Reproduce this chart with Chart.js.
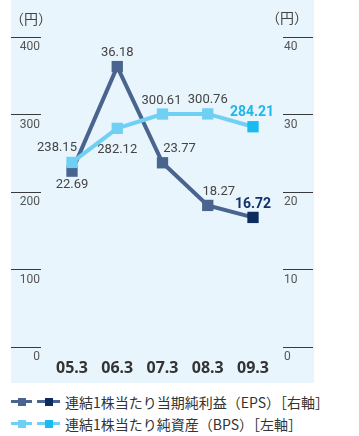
<!DOCTYPE html>
<html>
<head>
<meta charset="utf-8">
<script src="https://cdn.jsdelivr.net/npm/chart.js@4.4.1/dist/chart.umd.min.js"></script>
<style>
  html, body { margin: 0; padding: 0; background: #ffffff; }
  #wrap { position: relative; width: 359px; height: 436px; overflow: hidden; }
  #c { position: absolute; left: 0; top: 0; }
  .leg { position: absolute; left: 11px; height: 20px; display: flex; align-items: center;
         font-family: "Noto Sans CJK JP", "Noto Sans", sans-serif; font-size: 14px; color: #333; white-space: nowrap; }
  .ic { position: relative; height: 20px; display: inline-block; }
  .ic .ln { position: absolute; top: 8px; height: 3px; }
  .ic .mk { position: absolute; top: 5.5px; width: 8px; height: 8px; }
</style>
</head>
<body>
<div id="wrap">
  <canvas id="c" width="359" height="383"></canvas>
  <div class="leg" id="leg1" style="top:392px;"></div>
  <div class="leg" id="leg2" style="top:414px;"></div>
</div>
<script>
// ---- data ----
const categories = ["05.3", "06.3", "07.3", "08.3", "09.3"];
const epsValues = [22.69, 36.18, 23.77, 18.27, 16.72];     // right axis (円)
const bpsValues = [238.15, 282.12, 300.61, 300.76, 284.21]; // left axis (円)
const leftTicks = [0, 100, 200, 300, 400];
const rightTicks = [0, 10, 20, 30, 40];
const epsLegend = "連結1株当たり当期純利益（EPS）［右軸］";
const bpsLegend = "連結1株当たり純資産（BPS）［左軸］";
const unitLabel = "（円）";

// ---- styles ----
const EPS_COLOR = "#48648f";
const EPS_LAST = "#0b2c5c";
const BPS_COLOR = "#70d0f3";
const BPS_LAST = "#18bcee";
const PANEL = "#e8f5fc";
const NARROW = "'Liberation Sans Narrow', 'Roboto', sans-serif";

// label offsets relative to each point (styling only)
const labelOffsets = {
  bps: [[-15, -15], [0, 21], [-1, -13], [0, -14], [-1, -14]],
  eps: [[0, 14], [0, -14], [17, -14], [11, -14], [0, -13]]
};

function lastColor(n, normal, last) {
  return Array.from({length: n}, (_, i) => i === n - 1 ? last : normal);
}

const panelPlugin = {
  id: "panel",
  beforeDraw(chart) {
    const ctx = chart.ctx;
    ctx.save();
    ctx.fillStyle = PANEL;
    ctx.fillRect(11, 0, 303, 383);
    ctx.restore();
  },
  afterDraw(chart) {
    const ctx = chart.ctx;
    ctx.save();
    ctx.fillStyle = "#444";
    ctx.font = "14px 'Noto Sans CJK JP', sans-serif";
    ctx.textAlign = "center";
    ctx.textBaseline = "middle";
    ctx.fillText(unitLabel, 31, 19);
    ctx.fillText(unitLabel, 287, 18);
    ctx.restore();
  }
};

const valueLabelPlugin = {
  id: "valueLabels",
  afterDatasetsDraw(chart) {
    const ctx = chart.ctx;
    ctx.save();
    ctx.textAlign = "center";
    ctx.textBaseline = "middle";
    chart.data.datasets.forEach((ds, di) => {
      const meta = chart.getDatasetMeta(di);
      const key = ds.key;
      meta.data.forEach((pt, i) => {
        const last = i === meta.data.length - 1;
        const off = labelOffsets[key][i];
        const v = ds.data[i].y;
        if (last) {
          ctx.font = "bold 14px " + NARROW;
          ctx.fillStyle = key === "eps" ? "#12336a" : "#1fb7ea";
        } else {
          ctx.font = "13px " + NARROW;
          ctx.fillStyle = "#444";
        }
        ctx.fillText(v.toFixed(2), pt.x + off[0], pt.y + off[1]);
      });
    });
    ctx.restore();
  }
};

const yCommon = {
  min: 0,
  border: { display: false },
  grid: { drawOnChartArea: false, drawTicks: true, tickLength: 30, tickColor: "#3a3a3a", tickWidth: 1 },
  ticks: { padding: -29, labelOffset: 10, color: "#555", font: { family: NARROW, size: 12 }, autoSkip: false }
};

new Chart(document.getElementById("c"), {
  type: "line",
  data: {
    datasets: [
      {
        key: "bps",
        label: bpsLegend,
        yAxisID: "yL",
        data: bpsValues.map((v, i) => ({x: i, y: v})),
        borderColor: BPS_COLOR,
        borderWidth: 4,
        pointStyle: "rect",
        pointRadius: 8,
        pointBorderWidth: 0,
        pointBackgroundColor: lastColor(bpsValues.length, BPS_COLOR, BPS_LAST),
        tension: 0,
        clip: false
      },
      {
        key: "eps",
        label: epsLegend,
        yAxisID: "yR",
        data: epsValues.map((v, i) => ({x: i, y: v})),
        borderColor: EPS_COLOR,
        borderWidth: 4,
        pointStyle: "rect",
        pointRadius: 8,
        pointBorderWidth: 0,
        pointBackgroundColor: lastColor(epsValues.length, EPS_COLOR, EPS_LAST),
        tension: 0,
        clip: false
      }
    ]
  },
  options: {
    responsive: false,
    animation: false,
    events: [],
    layout: { padding: { top: 37, left: 0, right: 0, bottom: 0 } },
    plugins: { legend: { display: false }, tooltip: { enabled: false } },
    scales: {
      x: {
        type: "linear",
        min: -0.685,
        max: 4.663,
        border: { display: false },
        grid: { display: false },
        afterBuildTicks: s => { s.ticks = categories.map((_, i) => ({value: i})); },
        afterFit: s => { s.height = 36; },
        ticks: {
          padding: 4,
          color: "#333",
          font: { family: "'Noto Sans', sans-serif", size: 16, weight: "bold" },
          callback: v => categories[v],
          autoSkip: false,
          maxRotation: 0
        }
      },
      yL: Object.assign({}, yCommon, {
        position: "left",
        max: leftTicks[leftTicks.length - 1],
        afterBuildTicks: s => { s.ticks = leftTicks.map(v => ({value: v})); },
        afterFit: s => { s.width = 41; }
      }),
      yR: Object.assign({}, yCommon, {
        position: "right",
        max: rightTicks[rightTicks.length - 1],
        afterBuildTicks: s => { s.ticks = rightTicks.map(v => ({value: v})); },
        afterFit: s => { s.width = 76; }
      })
    }
  },
  plugins: [panelPlugin, valueLabelPlugin]
});

// ---- HTML legend ----
function legendRow(el, color, lastCol, text) {
  el.innerHTML =
    '<span class="ic" style="width:21px;"><span class="ln" style="left:0;width:21px;background:' + color + '"></span>' +
    '<span class="mk" style="left:6.5px;background:' + color + '"></span></span>' +
    '<span class="ic" style="width:23px;margin-left:5px;"><span class="ln" style="left:0;width:23px;background:' + color + '"></span>' +
    '<span class="mk" style="left:7.5px;background:' + lastCol + '"></span></span>' +
    '<span style="margin-left:5px;">' + text + '</span>';
}
legendRow(document.getElementById("leg1"), EPS_COLOR, EPS_LAST, epsLegend);
legendRow(document.getElementById("leg2"), BPS_COLOR, BPS_LAST, bpsLegend);
</script>
</body>
</html>
